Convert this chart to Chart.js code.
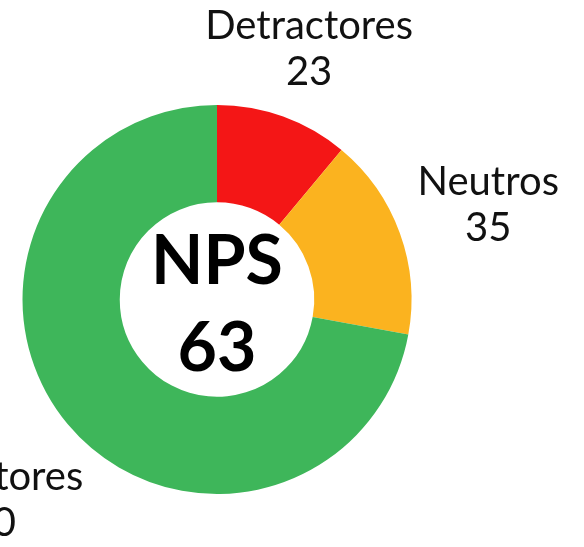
<!DOCTYPE html>
<html>
<head>
<meta charset="utf-8">
<script src="https://cdn.jsdelivr.net/npm/chart.js@4"></script>
<style>
  html, body { margin: 0; padding: 0; background: #fff; }
  #wrap { width: 584px; height: 547px; position: relative; }
</style>
</head>
<body>
<div id="wrap"><canvas id="npsChart"></canvas></div>
<script>
  // NPS breakdown
  const categories = ['Detractores', 'Neutros', 'Promotores'];
  const counts = [23, 35, 150];
  const sliceColors = ['#f41616', '#fbb31f', '#3eb65a'];
  const centerTitle = 'NPS';
  const centerScore = '63';

  const FONT = 'Lato, "Open Sans", sans-serif';

  // labels outside the ring, plus the score in the hole
  const npsLabels = {
    id: 'npsLabels',
    afterDraw(chart) {
      const ctx = chart.ctx;
      const meta = chart.getDatasetMeta(0);
      ctx.save();
      ctx.fillStyle = '#111';
      ctx.textAlign = 'center';
      ctx.textBaseline = 'middle';
      ctx.font = '40px ' + FONT;
      meta.data.forEach((arc, i) => {
        const p = arc.getProps(['x', 'y', 'startAngle', 'endAngle', 'outerRadius'], true);
        const mid = (p.startAngle + p.endAngle) / 2;
        const vx = Math.cos(mid), vy = Math.sin(mid);
        const halfW = Math.max(ctx.measureText(categories[i]).width, ctx.measureText(String(counts[i])).width) / 2;
        // push the text box out so it clears the ring
        const r = p.outerRadius + 20 + Math.abs(vx) * halfW + Math.abs(vy) * 22;
        const cx = p.x + vx * r;
        const cy = p.y + vy * r + 3;
        ctx.fillText(categories[i], cx, cy - 22);
        ctx.fillText(String(counts[i]), cx, cy + 24);
      });
      const a0 = meta.data[0];
      ctx.font = 'bold 68px ' + FONT;
      ctx.textBaseline = 'alphabetic';
      ctx.fillStyle = '#000';
      ctx.fillText(centerTitle, a0.x, a0.y - 16);
      ctx.fillText(centerScore, a0.x, a0.y + 71);
      ctx.restore();
    }
  };

  new Chart(document.getElementById('npsChart'), {
    type: 'doughnut',
    data: {
      labels: categories,
      datasets: [{
        data: counts,
        backgroundColor: sliceColors,
        borderWidth: 0
      }]
    },
    options: {
      responsive: true,
      maintainAspectRatio: false,
      animation: false,
      cutout: '50%',
      layout: { padding: { left: 22, right: 172, top: 105, bottom: 53 } },
      plugins: {
        legend: { display: false },
        tooltip: { enabled: false }
      }
    },
    plugins: [npsLabels]
  });
</script>
</body>
</html>
